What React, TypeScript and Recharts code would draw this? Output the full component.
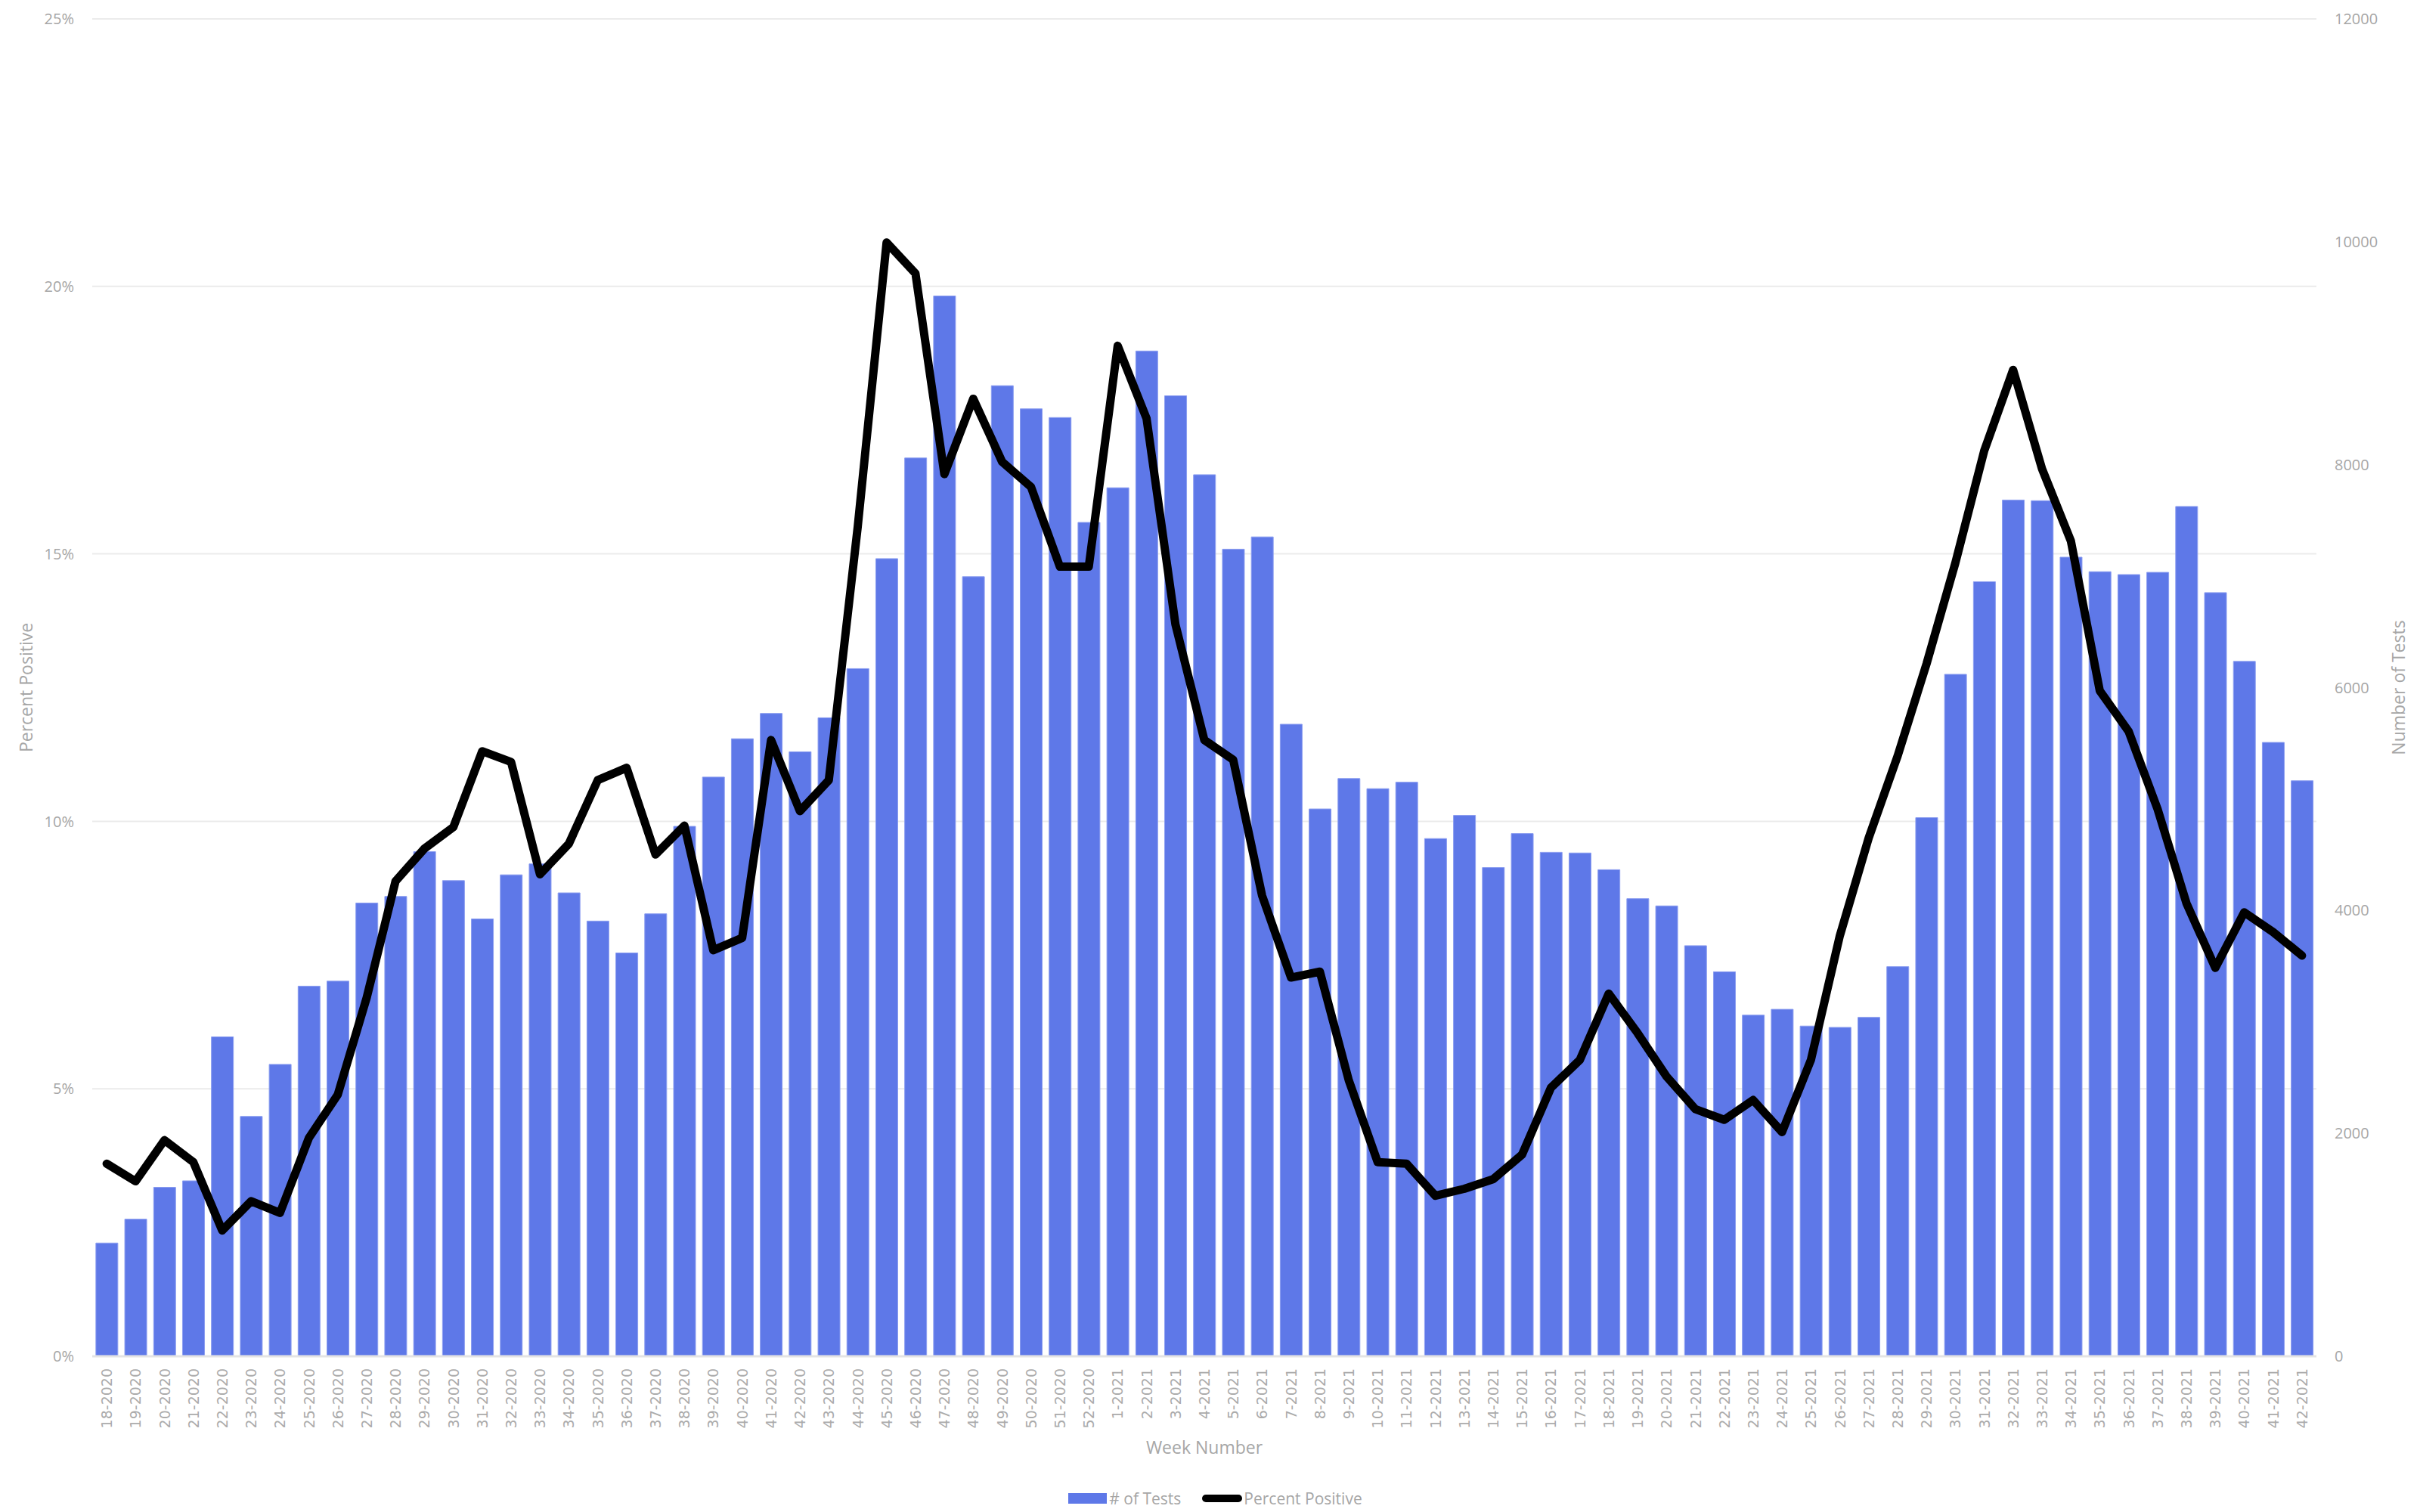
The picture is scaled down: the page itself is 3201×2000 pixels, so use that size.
import React from 'react';
import { ComposedChart, Bar, Line, XAxis, YAxis, CartesianGrid } from 'recharts';

const weeks = [
  '18-2020', '19-2020', '20-2020', '21-2020', '22-2020', '23-2020', '24-2020', '25-2020', '26-2020', '27-2020',
  '28-2020', '29-2020', '30-2020', '31-2020', '32-2020', '33-2020', '34-2020', '35-2020', '36-2020', '37-2020',
  '38-2020', '39-2020', '40-2020', '41-2020', '42-2020', '43-2020', '44-2020', '45-2020', '46-2020', '47-2020',
  '48-2020', '49-2020', '50-2020', '51-2020', '52-2020', '1-2021', '2-2021', '3-2021', '4-2021', '5-2021',
  '6-2021', '7-2021', '8-2021', '9-2021', '10-2021', '11-2021', '12-2021', '13-2021', '14-2021', '15-2021',
  '16-2021', '17-2021', '18-2021', '19-2021', '20-2021', '21-2021', '22-2021', '23-2021', '24-2021', '25-2021',
  '26-2021', '27-2021', '28-2021', '29-2021', '30-2021', '31-2021', '32-2021', '33-2021', '34-2021', '35-2021',
  '36-2021', '37-2021', '38-2021', '39-2021', '40-2021', '41-2021', '42-2021',
];

const testCounts = [
  1016, 1230, 1516, 1574, 2866, 2152, 2619, 3321, 3366, 4067,
  4126, 4528, 4268, 3924, 4320, 4418, 4158, 3905, 3619, 3970,
  4755, 5197, 5541, 5768, 5424, 5729, 6170, 7157, 8060, 9514,
  6995, 8709, 8501, 8423, 7482, 7793, 9020, 8618, 7910, 7242,
  7352, 5671, 4911, 5184, 5093, 5151, 4645, 4853, 4385, 4690,
  4522, 4516, 4366, 4106, 4041, 3684, 3450, 3061, 3113, 2963,
  2951, 3041, 3496, 4833, 6119, 6950, 7683, 7677, 7170, 7040,
  7014, 7034, 7625, 6852, 6235, 5508, 5164,
];

const percentPositive = [
  3.6, 3.27, 4.04, 3.63, 2.35, 2.9, 2.68, 4.08, 4.89, 6.7,
  8.88, 9.49, 9.89, 11.31, 11.11, 9.01, 9.58, 10.77, 11.0, 9.38,
  9.92, 7.59, 7.82, 11.52, 10.19, 10.77, 15.5, 20.82, 20.24, 16.49,
  17.9, 16.72, 16.25, 14.76, 14.76, 18.89, 17.53, 13.68, 11.52, 11.15,
  8.61, 7.08, 7.19, 5.16, 3.63, 3.6, 3.0, 3.13, 3.31, 3.77,
  5.02, 5.54, 6.78, 6.04, 5.23, 4.62, 4.42, 4.79, 4.19, 5.54,
  7.86, 9.69, 11.22, 12.94, 14.83, 16.93, 18.44, 16.59, 15.24, 12.44,
  11.68, 10.23, 8.47, 7.26, 8.3, 7.93, 7.49,
];

const percentTicks = [0, 5, 10, 15, 20, 25];
const testTicks = [0, 2000, 4000, 6000, 8000, 10000, 12000];

const data = weeks.map((week, i) => ({ week, tests: testCounts[i], pct: percentPositive[i] }));

const BAR_COLOR = '#5e78e8';
const TEXT_GRAY = '#a6a6a6';
const FONT = "'Open Sans', sans-serif";

const WeekTick = (props: any) => {
  const { x, y, payload } = props;
  return (
    <text
      x={x}
      y={y}
      transform={`rotate(-90 ${x} ${y})`}
      textAnchor="end"
      dominantBaseline="central"
      fill="#ababab"
      fontSize={19}
      fontFamily="'DejaVu Sans', sans-serif"
    >
      {payload.value}
    </text>
  );
};

// rotated axis title placed relative to the axis box
const sideTitle = (text: string, dxFromLeft: number) => (props: any) => {
  const { viewBox } = props;
  const cx = viewBox.x + dxFromLeft;
  const cy = viewBox.y + viewBox.height / 2;
  return (
    <text
      x={cx}
      y={cy}
      transform={`rotate(-90 ${cx} ${cy})`}
      textAnchor="middle"
      dominantBaseline="central"
      fill={TEXT_GRAY}
      fontSize={23}
      fontFamily={FONT}
    >
      {text}
    </text>
  );
};

const Legend = () => (
  <div
    style={{
      position: 'absolute',
      left: 0,
      top: 1968,
      width: 3201,
      display: 'flex',
      justifyContent: 'center',
      alignItems: 'center',
      fontFamily: FONT,
      fontSize: 21,
      color: TEXT_GRAY,
      paddingLeft: 14,
      boxSizing: 'border-box',
    }}
  >
    <span style={{ display: 'inline-block', width: 51, height: 14, background: BAR_COLOR, marginRight: 3 }} />
    <span># of Tests</span>
    <span
      style={{ display: 'inline-block', width: 53, height: 10, background: '#000', borderRadius: 5, marginLeft: 28, marginRight: 2 }}
    />
    <span>Percent Positive</span>
  </div>
);

export default function App() {
  return (
    <div style={{ position: 'absolute', left: 0, top: 0, width: 3201, height: 2000, background: '#fff' }}>
      <ComposedChart
        width={3201}
        height={2000}
        data={data}
        margin={{ top: 25, right: 0, bottom: 0, left: 0 }}
        barCategoryGap="12.7%"
      >
        <CartesianGrid yAxisId="left" vertical={false} stroke="#ebebeb" strokeWidth={2} />
        <XAxis
          dataKey="week"
          interval={0}
          height={206}
          tickLine={false}
          tickSize={0}
          tickMargin={16}
          axisLine={{ stroke: '#e4e4e4', strokeWidth: 3 }}
          tick={<WeekTick />}
          label={{ value: 'Week Number', position: 'insideBottom', offset: 77, fill: TEXT_GRAY, fontSize: 23, fontFamily: FONT }}
        />
        <YAxis
          yAxisId="left"
          width={122}
          domain={[0, 25]}
          ticks={percentTicks}
          tickFormatter={(v: number) => `${v}%`}
          axisLine={false}
          tickLine={false}
          tickSize={0}
          tickMargin={24}
          tick={{ fill: TEXT_GRAY, fontSize: 20, fontFamily: FONT }}
          label={{ content: sideTitle('Percent Positive', 34) }}
        />
        <YAxis
          yAxisId="right"
          orientation="right"
          width={137}
          domain={[0, 12000]}
          ticks={testTicks}
          axisLine={false}
          tickLine={false}
          tickSize={0}
          tickMargin={24}
          tick={{ fill: TEXT_GRAY, fontSize: 20, fontFamily: FONT }}
          label={{ content: sideTitle('Number of Tests', 108) }}
        />
        <Bar yAxisId="right" dataKey="tests" name="# of Tests" fill={BAR_COLOR} stroke="#8c9ef0" strokeWidth={1} isAnimationActive={false} />
        <Line
          yAxisId="left"
          type="linear"
          dataKey="pct"
          name="Percent Positive"
          stroke="#000"
          strokeWidth={11}
          strokeLinejoin="round"
          strokeLinecap="round"
          dot={false}
          activeDot={false}
          isAnimationActive={false}
        />
      </ComposedChart>
      <Legend />
    </div>
  );
}
